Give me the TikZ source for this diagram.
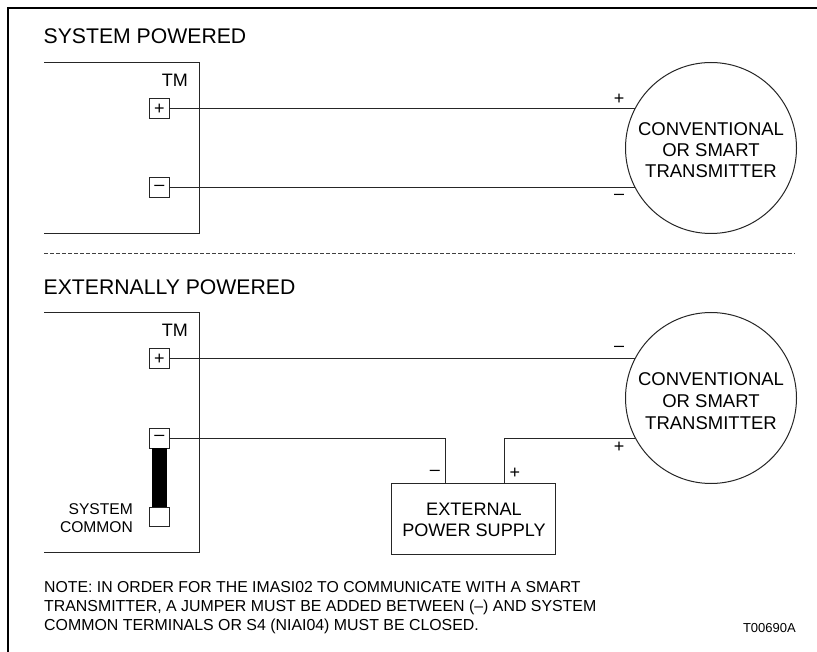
\documentclass[tikz,border=0pt]{standalone}
\usepackage{fontspec}
\setmainfont{Liberation Sans}
\newcommand{\fs}[1]{\fontsize{#1}{#1}\selectfont}
\tikzset{
  x=1pt,y=-1pt,
  ln/.style={line width=1pt,black!85},
  term/.style={draw,line width=1pt,black!85,fill=white,text=black,minimum width=20pt,minimum height=20pt,inner sep=0pt,font=\fs{18}},
  xmtr/.style={draw,circle,line width=1pt,black!85,fill=white,minimum size=171pt,inner sep=0pt},
  psu/.style={draw,line width=1pt,black!85,fill=white,minimum width=164pt,minimum height=70.5pt,inner sep=0pt},
  head/.style={anchor=base west,inner sep=0pt,font=\fs{21.2}},
  tmlab/.style={anchor=base east,inner sep=0pt,font=\fs{18}},
  conv/.style={anchor=base,inner sep=0pt,text=black,font=\fs{18.5}},
  pol/.style={anchor=center,inner sep=0pt,font=\fs{18}},
  note/.style={anchor=base west,inner sep=0pt,font=\fs{15.9}},
}
\begin{document}
\begin{tikzpicture}
\useasboundingbox (0,0) rectangle (817,652);
% frame
\draw[line width=1.8pt] (817,7.8) -- (8,7.8) -- (8,652);
% headings
\node[head] (h1) at (43.5,43.5) {SYSTEM POWERED};
\node[head] (h2) at (43.5,295) {EXTERNALLY POWERED};
% upper section
\draw[ln] (44,63) -| (199,233.5) -- (44,233.5);
\node[tmlab] (tm1) at (188,86.5) {TM};
\node[term] (p1) at (159.5,109) {+};
\node[term] (m1) at (159.5,188) {–};
\coordinate (c1w) at (711,148);
\draw[ln] (p1.east) -- (p1.east -| c1w);
\draw[ln] (m1.east) -- (m1.east -| c1w);
\node[xmtr] (c1) at (c1w) {};
\node[conv] (c1a) at (711,136) {CONVENTIONAL};
\node[conv] (c1b) at (711,157) {OR SMART};
\node[conv] (c1c) at (711,178) {TRANSMITTER};
\node[pol] (lp1) at (619,99.5) {+};
\node[pol] (lm1) at (619,197) {–};
% divider
\coordinate (dl) at (44,253);
\coordinate (dr) at (795,253);
\draw[line width=0.9pt,black!75,dash pattern=on 4pt off 2pt] (dl) -- (dr);
% lower section
\draw[ln] (44,313) -| (199,552) -- (44,552);
\node[tmlab] (tm2) at (188,336.5) {TM};
\node[term] (p2) at (159.5,359) {+};
\node[term] (m2) at (159.5,438) {–};
\node[term,minimum height=19pt] (sc) at (159.5,516.5) {};
\fill[black] (151.7,448) rectangle (166.7,507);
\node[anchor=base east,inner sep=0pt,font=\fs{15.6}] (sc1) at (133,514) {SYSTEM};
\node[anchor=base east,inner sep=0pt,font=\fs{15.6}] (sc2) at (133,532) {COMMON};
\coordinate (c2w) at (711,398);
\node[psu] (ps) at (473,519) {};
\coordinate (a) at (445.5,438);
\coordinate (b) at (504,438);
\draw[ln] (p2.east) -- (p2.east -| c2w);
\draw[ln] (m2.east) -- (a) -- (a |- ps.north);
\draw[ln] (b |- ps.north) -- (b) -- (b -| c2w);
\node[xmtr] (c2) at (c2w) {};
\node[conv] (c2a) at (711,385.5) {CONVENTIONAL};
\node[conv] (c2b) at (711,407) {OR SMART};
\node[conv] (c2c) at (711,429) {TRANSMITTER};
\node[conv,font=\fs{18.1}] (e1) at (474,515.5) {EXTERNAL};
\node[conv,font=\fs{18.1}] (e2) at (474,536.5) {POWER SUPPLY};
\node[pol] (lm2) at (619,349) {–};
\node[pol] (lp2) at (619,447) {+};
\node[pol] (lm3) at (435,473) {–};
\node[pol] (lp3) at (515,473) {+};
% note
\node[note,font=\fs{15.8}] (n1) at (44,592.8) {NOTE: IN ORDER FOR THE IMASI02 TO COMMUNICATE WITH A SMART};
\node[note] (n2) at (44,611.4) {TRANSMITTER, A JUMPER MUST BE ADDED BETWEEN (–) AND SYSTEM};
\node[note] (n3) at (44,630) {COMMON TERMINALS OR S4 (NIAI04) MUST BE CLOSED.};
\node[anchor=base east,inner sep=0pt,font=\fs{13}] (tag) at (796,632) {T00690A};
\end{tikzpicture}
\end{document}
